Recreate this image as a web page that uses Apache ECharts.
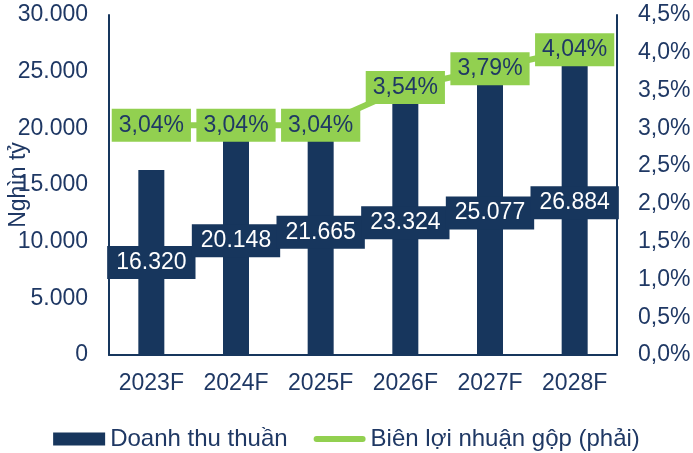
<!DOCTYPE html>
<html>
<head>
<meta charset="utf-8">
<script src="https://cdn.jsdelivr.net/npm/echarts@6/dist/echarts.min.js"></script>
<style>
  html, body { margin: 0; padding: 0; background: #fff; }
  #chart { width: 693px; height: 453px; }
</style>
</head>
<body>
<div id="chart"></div>
<script>
// data
const years = ['2023F', '2024F', '2025F', '2026F', '2027F', '2028F']
const revenue = [16320, 20148, 21665, 23324, 25077, 26884] // Nghìn tỷ
const grossMargin = [3.04, 3.04, 3.04, 3.54, 3.79, 4.04] // %

const navy = '#17365D'
const textColor = '#1F3864'
const green = '#92D050'
const font = 'Liberation Sans, Arial, sans-serif'
const fs = 23

const fmtThousands = v => String(Math.round(v)).replace(/\B(?=(\d{3})+(?!\d))/g, '.')
const fmtPct = (v, d) => v.toFixed(d).replace('.', ',') + '%'

const chart = echarts.init(document.getElementById('chart'))
chart.setOption({
  animation: false,
  textStyle: { fontFamily: font },
  grid: { left: 109, right: 76, top: 15, bottom: 98, containLabel: false, outerBoundsMode: 'none' },
  legend: {
    top: 422,
    left: 'center',
    itemWidth: 52,
    itemHeight: 13,
    itemGap: 26,
    textStyle: { fontSize: 24, color: textColor, fontFamily: font },
    data: [
      { name: 'Doanh thu thuần', icon: 'rect' },
      { name: 'Biên lợi nhuận gộp (phải)', icon: 'path://M3,0 h46 a3,3 0 0 1 0,6 h-46 a3,3 0 0 1 0,-6 z' }
    ]
  },
  xAxis: {
    type: 'category',
    data: years,
    axisLine: { lineStyle: { color: navy, width: 2 } },
    axisTick: { show: false },
    axisLabel: { fontSize: fs, color: textColor, margin: 17, interval: 0, hideOverlap: false }
  },
  yAxis: [
    {
      type: 'value',
      min: 0,
      max: 30000,
      interval: 5000,
      name: 'Nghìn tỷ',
      nameLocation: 'middle',
      nameGap: 79,
      nameMoveOverlap: false,
      nameTextStyle: { fontSize: fs, color: textColor },
      axisLine: { show: true, lineStyle: { color: navy, width: 2 } },
      axisTick: { show: false },
      splitLine: { show: false },
      axisLabel: { fontSize: fs, color: textColor, margin: 21, formatter: v => fmtThousands(v) }
    },
    {
      type: 'value',
      min: 0,
      max: 4.5,
      interval: 0.5,
      axisLine: { show: true, lineStyle: { color: navy, width: 2 } },
      axisTick: { show: false },
      splitLine: { show: false },
      axisLabel: { fontSize: fs, color: textColor, margin: 21, formatter: v => fmtPct(v, 1) }
    }
  ],
  series: [
    {
      name: 'Doanh thu thuần',
      type: 'bar',
      data: revenue,
      barWidth: 26,
      itemStyle: { color: navy },
      label: {
        show: true,
        position: 'inside',
        fontSize: fs,
        color: '#fff',
        backgroundColor: navy,
        padding: [5, 9],
        formatter: p => fmtThousands(p.value)
      },
      z: 2
    },
    {
      name: 'Biên lợi nhuận gộp (phải)',
      type: 'line',
      yAxisIndex: 1,
      data: grossMargin,
      symbol: 'circle',
      symbolSize: 2,
      itemStyle: { color: green },
      lineStyle: { color: green, width: 6 },
      label: {
        show: true,
        position: 'inside',
        fontSize: fs,
        color: textColor,
        backgroundColor: green,
        padding: [5, 7],
        formatter: p => fmtPct(p.value, 2)
      },
      z: 5
    }
  ]
})
</script>
</body>
</html>
